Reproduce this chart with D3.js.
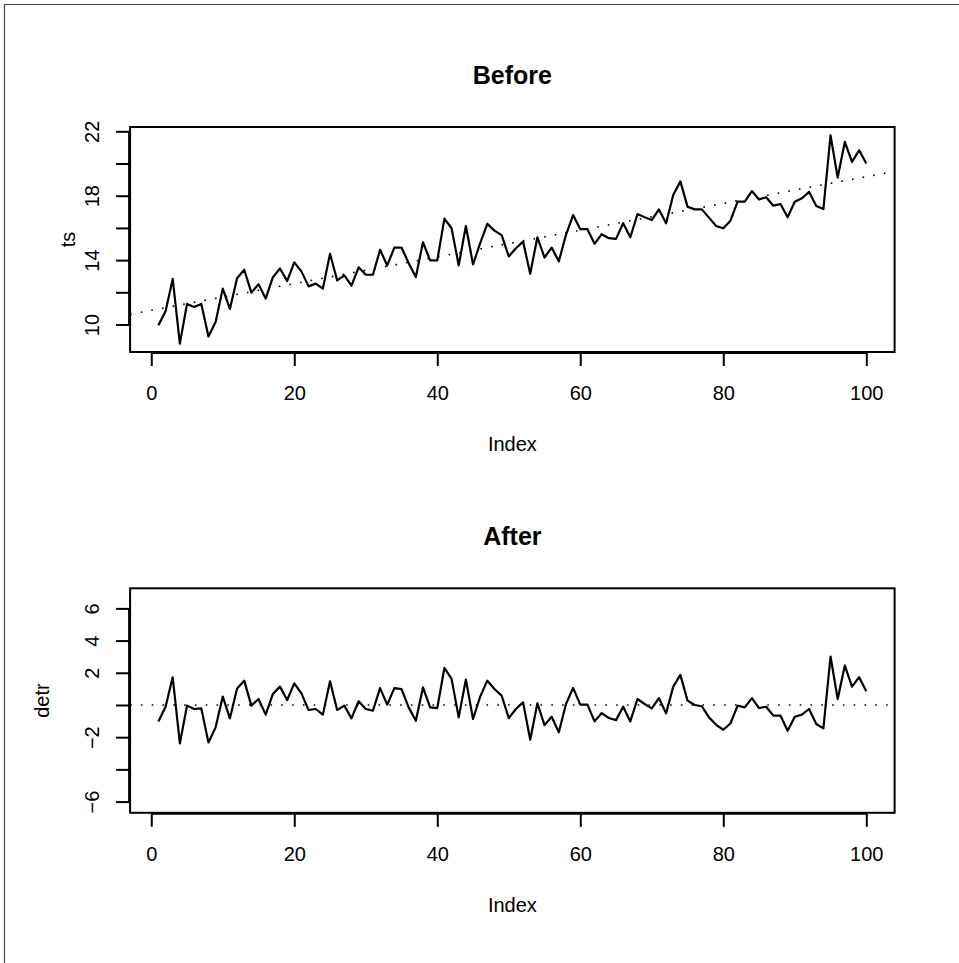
<!DOCTYPE html>
<html>
<head>
<meta charset="utf-8">
<script src="https://cdn.jsdelivr.net/npm/d3@7"></script>
<style>
  html, body { margin: 0; padding: 0; background: #fff; }
  svg { display: block; }
  text { font-family: "Liberation Sans", Arial, Helvetica, sans-serif; fill: #000; }
</style>
</head>
<body>
<svg id="chart" width="959" height="963"></svg>
<script>
// ---------------- data ----------------
const index = d3.range(1, 101);

const tsValues = [
  9.96, 10.82, 12.83, 8.81, 11.28, 11.09, 11.28, 9.26, 10.16, 12.23,
  10.97, 12.87, 13.40, 11.98, 12.50, 11.61, 12.93, 13.48, 12.70, 13.86,
  13.30, 12.37, 12.54, 12.23, 14.39, 12.74, 13.05, 12.41, 13.55, 13.09,
  13.09, 14.64, 13.67, 14.78, 14.78, 13.81, 12.95, 15.11, 13.98, 13.98,
  16.58, 15.98, 13.67, 16.12, 13.73, 15.05, 16.25, 15.83, 15.55, 14.23,
  14.74, 15.15, 13.15, 15.42, 14.16, 14.78, 13.92, 15.57, 16.80, 15.92,
  15.92, 15.01, 15.61, 15.36, 15.32, 16.29, 15.42, 16.86, 16.66, 16.49,
  17.15, 16.29, 18.04, 18.89, 17.32, 17.15, 17.15, 16.64, 16.12, 15.98,
  16.45, 17.63, 17.63, 18.29, 17.77, 17.90, 17.38, 17.48, 16.66, 17.63,
  17.84, 18.24, 17.36, 17.17, 21.75, 19.13, 21.34, 20.10, 20.82, 20.00
];

const detrValues = [
  -1.02, -0.11, 1.72, -2.39, -0.04, -0.25, -0.21, -2.33, -1.39, 0.52,
  -0.83, 1.03, 1.51, -0.04, 0.37, -0.60, 0.68, 1.14, 0.31, 1.34,
  0.72, -0.31, -0.25, -0.60, 1.47, -0.31, -0.04, -0.83, 0.23, -0.25,
  -0.36, 1.05, 0.02, 1.05, 0.99, -0.15, -0.98, 1.09, -0.15, -0.19,
  2.30, 1.62, -0.77, 1.58, -0.87, 0.52, 1.51, 0.99, 0.58, -0.81,
  -0.25, 0.16, -2.16, 0.10, -1.25, -0.73, -1.70, 0.06, 1.06, 0.02,
  0.02, -1.02, -0.50, -0.81, -0.94, -0.11, -1.02, 0.37, 0.06, -0.21,
  0.43, -0.52, 1.14, 1.87, 0.27, 0.00, -0.08, -0.77, -1.23, -1.54,
  -1.15, -0.04, -0.15, 0.43, -0.19, -0.11, -0.66, -0.66, -1.60, -0.73,
  -0.60, -0.25, -1.18, -1.45, 3.01, 0.37, 2.45, 1.14, 1.72, 0.85
];

// fitted trend line (abline) in the "Before" panel, and the zero line in "After"
const trendIntercept = 10.88;
const trendSlope = 0.083;
const zeroLevel = 0;

// axis ticks and labels
const xTicks = [0, 20, 40, 60, 80, 100];
const tsTicks = [10, 12, 14, 16, 18, 20, 22];
const tsTickLabels = [10, 14, 18, 22];
const detrTicks = [-6, -4, -2, 0, 2, 4, 6];
const detrTickLabels = [-6, -2, 2, 4, 6];
const detrLimits = [-6.18, 6.73];

const titles = ["Before", "After"];
const yLabels = ["ts", "detr"];
const xLabel = "Index";

// ---------------- layout ----------------
const svg = d3.select("#chart");
const plotLeft = 130.1, plotRight = 894.6;
const panels = [
  { top: 127, bottom: 352, title: titles[0], ylab: yLabels[0], values: tsValues,
    ticks: tsTicks, labels: tsTickLabels, lim: d3.extent(tsValues), ref: "trend", ylabX: 75 },
  { top: 588.3, bottom: 812.8, title: titles[1], ylab: yLabels[1], values: detrValues,
    ticks: detrTicks, labels: detrTickLabels, lim: detrLimits, ref: "zero", ylabX: 49 }
];

function extend(lim) {
  const d = (lim[1] - lim[0]) * 0.04;
  return [lim[0] - d, lim[1] + d];
}

const xDomain = extend(d3.extent(index));
const x = d3.scaleLinear().domain(xDomain).range([plotLeft, plotRight]);

// outer frame (partially visible)
svg.append("path")
  .attr("d", "M4.5,963 V4.5 H959")
  .attr("fill", "none").attr("stroke", "#444").attr("stroke-width", 1.2);

const fmt = v => (v < 0 ? "\u2212" + Math.abs(v) : String(v));

panels.forEach((p, k) => {
  const y = d3.scaleLinear().domain(extend(p.lim)).range([p.bottom, p.top]);
  const g = svg.append("g");

  const clipId = "clip" + k;
  svg.append("clipPath").attr("id", clipId)
    .append("rect")
    .attr("x", plotLeft).attr("y", p.top)
    .attr("width", plotRight - plotLeft).attr("height", p.bottom - p.top);

  // reference line (dotted)
  let x0 = xDomain[0], x1 = xDomain[1];
  let yv0, yv1;
  if (p.ref === "trend") {
    yv0 = trendIntercept + trendSlope * x0;
    yv1 = trendIntercept + trendSlope * x1;
  } else {
    yv0 = zeroLevel; yv1 = zeroLevel;
  }
  g.append("line")
    .attr("clip-path", `url(#${clipId})`)
    .attr("x1", x(x0)).attr("y1", y(yv0))
    .attr("x2", x(x1)).attr("y2", y(yv1))
    .attr("stroke", "#000").attr("stroke-width", 1.6)
    .attr("stroke-dasharray", "1.6,9.2");

  // data line
  const line = d3.line().x((d, i) => x(index[i])).y(d => y(d));
  g.append("path")
    .datum(p.values)
    .attr("d", line)
    .attr("fill", "none")
    .attr("stroke", "#000")
    .attr("stroke-width", 2.2)
    .attr("stroke-linejoin", "round");

  // box
  g.append("rect")
    .attr("x", plotLeft).attr("y", p.top)
    .attr("width", plotRight - plotLeft).attr("height", p.bottom - p.top)
    .attr("fill", "none").attr("stroke", "#000").attr("stroke-width", 2);

  // x axis
  const xAxis = d3.axisBottom(x).tickValues(xTicks).tickSize(13).tickPadding(6)
    .tickFormat(d3.format("d"));
  const xg = g.append("g").attr("transform", `translate(0,${p.bottom + 1})`).call(xAxis);
  xg.select(".domain")
    .attr("d", `M${x(xTicks[0])},0H${x(xTicks[xTicks.length - 1])}`)
    .attr("stroke", "#000").attr("stroke-width", 2);
  xg.selectAll(".tick line").attr("stroke", "#000").attr("stroke-width", 2);
  xg.selectAll(".tick text")
    .attr("font-size", 20).attr("font-family", "Liberation Sans, Arial, sans-serif")
    .attr("fill", "#000").attr("dy", null).attr("y", 47).attr("dominant-baseline", "auto");

  // y axis
  const yAxis = d3.axisLeft(y).tickValues(p.ticks).tickSize(13)
    .tickFormat(d => (p.labels.includes(d) ? fmt(d) : ""));
  const yg = g.append("g").attr("transform", `translate(${plotLeft - 1},0)`).call(yAxis);
  yg.select(".domain")
    .attr("d", `M0,${y(p.ticks[0])}V${y(p.ticks[p.ticks.length - 1])}`)
    .attr("stroke", "#000").attr("stroke-width", 2);
  yg.selectAll(".tick line").attr("stroke", "#000").attr("stroke-width", 2);
  yg.selectAll(".tick text")
    .attr("font-size", 20).attr("font-family", "Liberation Sans, Arial, sans-serif")
    .attr("fill", "#000")
    .attr("x", null).attr("dy", null)
    .attr("text-anchor", "middle")
    .attr("transform", "translate(-30,0) rotate(-90)");

  // title
  g.append("text")
    .attr("x", (plotLeft + plotRight) / 2).attr("y", p.top - 43)
    .attr("text-anchor", "middle")
    .attr("font-size", 25).attr("font-weight", "bold")
    .text(p.title);

  // x label
  g.append("text")
    .attr("x", (plotLeft + plotRight) / 2).attr("y", p.bottom + 99)
    .attr("text-anchor", "middle")
    .attr("font-size", 20)
    .text(xLabel);

  // y label
  g.append("text")
    .attr("transform", `translate(${p.ylabX},${(p.top + p.bottom) / 2}) rotate(-90)`)
    .attr("text-anchor", "middle")
    .attr("font-size", 20)
    .text(p.ylab);
});
</script>
</body>
</html>
